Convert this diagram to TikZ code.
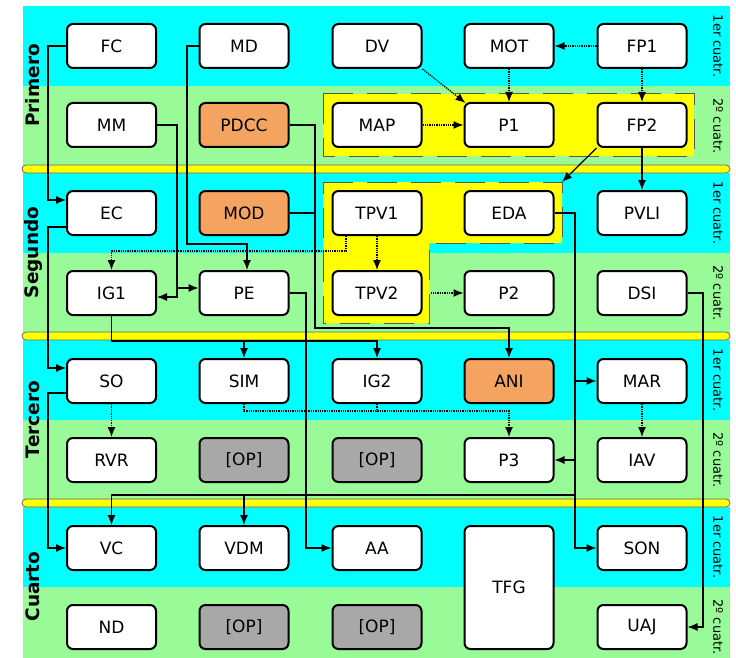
\documentclass[tikz,border=0pt]{standalone}
\usepackage{fontspec}
\setmainfont{DejaVu Sans}
\usetikzlibrary{arrows.meta}
\definecolor{bcyan}{HTML}{00FFFF}
\definecolor{bgreen}{HTML}{98FB98}
\definecolor{byellow}{HTML}{FFFF00}
\definecolor{borange}{HTML}{F4A460}
\definecolor{bgray}{HTML}{A8A8A8}
\tikzset{
  course/.style={draw=black, line width=2pt, rounded corners=6pt, fill=white,
    minimum width=89pt, minimum height=44pt, inner sep=0pt,
    font=\fontsize{17}{20}\selectfont},
  orangebox/.style={course, fill=borange},
  graybox/.style={course, fill=bgray},
  link/.style={line width=1.2pt, -{Latex[length=10pt,width=8pt]}},
  plainlink/.style={line width=1.2pt},
  dotlink/.style={line width=1.3pt, dash pattern=on 1.3pt off 1pt, -{Latex[length=10pt,width=8pt]}},
  dotplain/.style={line width=1.3pt, dash pattern=on 1.3pt off 1pt},
  sepbar/.style={fill=byellow, draw=black!60, line width=0.8pt, rounded corners=4pt},
  groupbox/.style={fill=byellow, draw=black!65, line width=1pt, dash pattern=on 30pt off 14pt},
  yearlabel/.style={rotate=90, font=\bfseries\fontsize{18.5}{20}\selectfont, inner sep=0pt},
  semlabel/.style={rotate=-90, font=\fontsize{13}{15}\selectfont, inner sep=0pt}
}
\begin{document}
\begin{tikzpicture}[x=1pt,y=-1pt]
\useasboundingbox (0,0) rectangle (736,658);
\fill[white] (0,0) rectangle (736,658);
% bands
\foreach \k in {0,1,2} {
  \fill[bcyan] (23,{6+167*\k}) rectangle (730,{86+167*\k});
  \fill[bgreen] (23,{86+167*\k}) rectangle (730,{169+167*\k});
}
\fill[bcyan] (23,507) rectangle (730,587);
\fill[bgreen] (23,587) rectangle (730,658);
\foreach \k in {0,1,2}
  \draw[sepbar] (22,{165+167*\k}) rectangle (730,{173+167*\k});
% year labels
\node[yearlabel] (yPrimero) at (33,85.5) {Primero};
\node[yearlabel] (ySegundo) at (33,252.5) {Segundo};
\node[yearlabel] (yTercero) at (33,419.5) {Tercero};
\node[yearlabel] (yCuarto) at (33,586.5) {Cuarto};
\foreach \k in {0,1,2,3} {
  \node[semlabel] (sa\k) at (718,{46+167*\k}) {1er cuatr.};
  \node[semlabel] (sb\k) at (718,{126+167*\k}) {2º cuatr.};
}
% highlighted groups
\draw[groupbox] (323,94) rectangle (694,156);
\draw[groupbox] (323,182) -- (562,182) -- (562,243) -- (429,243) -- (429,323) -- (323,323) -- cycle;
\coordinate (grpB) at (562,182);
% nodes
\node[course] (FC)  at (111.5,46) {FC};
\node[course] (MD)  at (244,46) {MD};
\node[course] (DV)  at (377,46) {DV};
\node[course] (MOT) at (509,46) {MOT};
\node[course] (FP1) at (642,46) {FP1};
\node[course] (MM)  at (111.5,125) {MM};
\node[orangebox] (PDCC) at (244,125) {PDCC};
\node[course] (MAP) at (377,125) {MAP};
\node[course] (P1)  at (509,125) {P1};
\node[course] (FP2) at (642,125) {FP2};
\node[course] (EC)  at (111.5,213) {EC};
\node[orangebox] (MOD) at (244,213) {MOD};
\node[course] (TPV1) at (377,213) {TPV1};
\node[course] (EDA) at (509,213) {EDA};
\node[course] (PVLI) at (642,213) {PVLI};
\node[course] (IG1) at (111.5,293) {IG1};
\node[course] (PE)  at (244,293) {PE};
\node[course] (TPV2) at (377,293) {TPV2};
\node[course] (P2)  at (509,293) {P2};
\node[course] (DSI) at (642,293) {DSI};
\node[course] (SO)  at (111.5,381) {SO};
\node[course] (SIM) at (244,381) {SIM};
\node[course] (IG2) at (377,381) {IG2};
\node[orangebox] (ANI) at (509,381) {ANI};
\node[course] (MAR) at (642,381) {MAR};
\node[course] (RVR) at (111.5,460) {RVR};
\node[graybox] (OPa) at (244,460) {[OP]};
\node[graybox] (OPb) at (377,460) {[OP]};
\node[course] (P3)  at (509,460) {P3};
\node[course] (IAV) at (642,460) {IAV};
\node[course] (VC)  at (111.5,548) {VC};
\node[course] (VDM) at (244,548) {VDM};
\node[course] (AA)  at (377,548) {AA};
\node[course, minimum height=123pt] (TFG) at (509,587.5) {TFG};
\node[course] (SON) at (642,548) {SON};
\node[course] (ND)  at (111.5,627) {ND};
\node[graybox] (OPc) at (244,627) {[OP]};
\node[graybox] (OPd) at (377,627) {[OP]};
\node[course] (UAJ) at (642,627) {UAJ};
% connectors
\draw[link] (FC.west) -- ++(-18,0) |- ([yshift=13pt]EC.west);
\draw[link] ([yshift=-14pt]EC.west) -- ++(-18,0) |- ([yshift=13pt]SO.west);
\draw[link] ([yshift=-12pt]SO.west) -- ++(-18,0) |- (VC.west);
\coordinate (mdk) at (187,244);
\draw[link] (MD.west) -| (mdk) -| ([xshift=3pt]PE.north);
\draw[link] (MM.east) -| (177,297) -- ([yshift=-4pt]IG1.east);
\draw[link] (177,288) -- ([yshift=5pt]PE.west);
\draw[link] (PDCC.east) -| (315,328) -| (ANI.north);
\draw[plainlink] (MOD.east) -- (315,213);
\draw[link] (PE.east) -| (306,548) -- (AA.west);
\draw[link] (IG1.south) |- (377,341) -- (IG2.north);
\draw[link] (244,341) -- (SIM.north);
\draw[dotlink] ([xshift=-31pt]TPV1.south) |- (111.5,251) -- (IG1.north);
\draw[dotlink] (TPV1.south) -- (TPV2.north);
\draw[dotlink] ([xshift=8pt]TPV2.east) -- (P2.west);
\draw[dotlink] (MAP.east) -- (P1.west);
\draw[dotlink] (DV.south east) -- ([xshift=2pt,yshift=-1pt]P1.north west);
\draw[dotlink] (MOT.south) -- (P1.north);
\draw[dotlink] (FP1.west) -- (MOT.east);
\draw[dotlink] (FP1.south) -- (FP2.north);
\draw[link] (FP2.south west) -- (grpB);
\draw[link] (FP2.south) -- (PVLI.north);
\draw[link] (EDA.east) -| (575,548) -- (SON.west);
\draw[link] (575,381) -- (MAR.west);
\draw[link] (575,460) -- (P3.east);
\draw[link] (575,495) -| (VC.north);
\draw[link] (244,495) -- (VDM.north);
\draw[link] (DSI.east) -| (703,627) -- (UAJ.east);
\draw[dotlink] (MAR.south) -- (IAV.north);
\draw[dotlink] (SO.south) -- (RVR.north);
\draw[dotlink] (SIM.south) |- (509,411) -- (P3.north);
\draw[dotplain] (IG2.south) -- (377,411);
\end{tikzpicture}
\end{document}
